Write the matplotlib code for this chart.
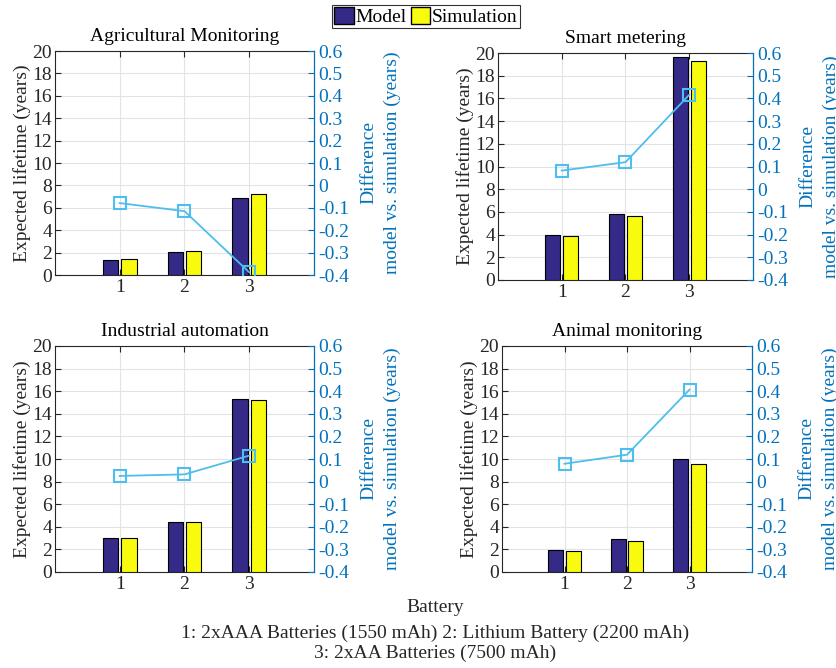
import numpy as np
import matplotlib
matplotlib.use("Agg")
import matplotlib.pyplot as plt
from matplotlib.patches import Patch

plt.rcParams['font.family'] = ['Liberation Serif', 'DejaVu Serif']
plt.rcParams['axes.unicode_minus'] = False
plt.rcParams['font.size'] = 14

# lifetime per battery type (years)
batteries = [1, 2, 3]
titles = ["Agricultural Monitoring", "Smart metering",
          "Industrial automation", "Animal monitoring"]
model = [
    [1.38, 2.01, 6.84],
    [3.94, 5.79, 19.65],
    [3.04, 4.46, 15.30],
    [1.98, 2.92, 10.01],
]
simulation = [
    [1.47, 2.12, 7.25],
    [3.85, 5.68, 19.26],
    [3.01, 4.43, 15.18],
    [1.89, 2.78, 9.60],
]
difference = [
    [-0.079, -0.115, -0.388],
    [0.082, 0.119, 0.416],
    [0.025, 0.032, 0.115],
    [0.079, 0.119, 0.407],
]

dark = "#262626"
blue_axis = "#0072bd"
line_col = "#4dbeee"
model_col = "#352a87"
sim_col = "#f9fb0e"

W, H = 837, 668
# axes boxes in pixels: left, top, right, bottom
boxes = [
    (55, 51, 314, 275),
    (498, 53, 753, 280),
    (55, 346, 314, 572),
    (502, 346, 752, 572),
]

fig = plt.figure(figsize=(W / 100, H / 100), dpi=100)

x = np.array(batteries)
bw = 0.24
off = 0.14
for i, (l, t, r, b) in enumerate(boxes):
    ax = fig.add_axes([l / W, 1 - b / H, (r - l) / W, (b - t) / H])
    ax.bar(x - off, model[i], bw, color=model_col, edgecolor="black",
           linewidth=0.8, zorder=3)
    ax.bar(x + off, simulation[i], bw, color=sim_col, edgecolor="black",
           linewidth=0.8, zorder=3)
    ax.set_xlim(0, 4)
    ax.set_ylim(0, 20)
    ax.set_xticks(batteries)
    ax.set_yticks(np.arange(0, 21, 2))
    ax.grid(True, color="#e3e3e3", linewidth=0.8, zorder=0)
    ax.set_axisbelow(True)
    ax.tick_params(direction="in", length=4, colors=dark, labelsize=14,
                   top=True, pad=3)
    ax.tick_params(axis="y", right=False, pad=2)
    for s in ["left", "bottom", "top"]:
        ax.spines[s].set_color(dark)
        ax.spines[s].set_linewidth(0.8)
    ax.set_ylabel("Expected lifetime (years)", color=dark, fontsize=14,
                  labelpad=1)
    ax.set_title(titles[i], color="black", fontsize=14, pad=7)

    ax2 = ax.twinx()
    ax2.plot(x, difference[i], color=line_col, linewidth=1.3, marker="s",
             markersize=8, markerfacecolor="none", markeredgewidth=1.5,
             zorder=4)
    ax2.set_ylim(-0.4, 0.6)
    ticks = np.round(np.arange(-0.4, 0.61, 0.1), 1)
    ax2.set_yticks(ticks)
    ax2.set_yticklabels(["0" if v == 0 else f"{v:g}" for v in ticks])
    ax2.tick_params(direction="in", length=4, colors=blue_axis,
                    labelsize=14, pad=3)
    ax2.spines["right"].set_color(blue_axis)
    ax2.spines["right"].set_linewidth(0.8)
    for s in ["left", "bottom", "top"]:
        ax2.spines[s].set_visible(False)
    ax2.set_ylabel("Difference\nmodel vs. simulation (years)",
                   color=blue_axis, fontsize=14, labelpad=8,
                   linespacing=1.45)

handles = [Patch(facecolor=model_col, edgecolor="black", label="Model"),
           Patch(facecolor=sim_col, edgecolor="black", label="Simulation")]
leg = fig.legend(handles=handles, loc="upper center", ncol=2,
                 bbox_to_anchor=(0.509, 0.993), frameon=True, fancybox=False,
                 edgecolor="black", fontsize=14, handlelength=1.0,
                 handleheight=1.0, handletextpad=0.1, columnspacing=0.2,
                 borderpad=0.1, borderaxespad=0.0)
leg.get_frame().set_linewidth(0.8)

fig.text(0.52, 1 - 607 / H, "Battery", ha="center", va="center",
         color=dark, fontsize=14)
fig.text(0.52, 1 - 643 / H,
         "1: 2xAAA Batteries (1550 mAh) 2: Lithium Battery (2200 mAh)\n"
         "3: 2xAA Batteries (7500 mAh)",
         ha="center", va="center", color=dark, fontsize=14, linespacing=1.2)

fig.savefig("out.png", dpi=100)
